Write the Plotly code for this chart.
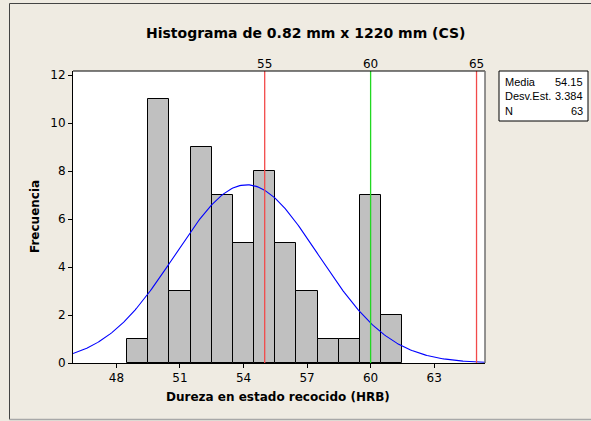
import numpy as np
import plotly.graph_objects as go

# Histogram data: bin midpoints (HRB) and frequencies
bin_mid = [49, 50, 51, 52, 53, 54, 55, 56, 57, 58, 59, 60, 61]
freq = [1, 11, 3, 9, 7, 5, 8, 5, 3, 1, 1, 7, 2]

# Summary statistics
media = 54.15
desv = 3.384
n = 63

# Reference lines on the top axis
ref_vals = [55, 60, 65]
ref_colors = ["#F24A4A", "#22D822", "#F24A4A"]

x_ticks = [48, 51, 54, 57, 60, 63]
y_ticks = [0, 2, 4, 6, 8, 10, 12]

W, H = 591, 421
L, R, T, B = 73, 485, 71, 363
xr = [45.95, 65.4]
yr = [0, 12.17]

FONT = "DejaVu Sans"
BOX_FONT = "Liberation Sans"

fig = go.Figure()

fig.add_trace(go.Bar(
    x=bin_mid, y=freq, width=1.0,
    marker=dict(color="#C0C0C0", line=dict(color="#000000", width=1)),
    hoverinfo="x+y", showlegend=False,
))

# Fitted normal curve scaled to counts (bin width 1)
xc = np.linspace(xr[0], xr[1], 300)
yc = n * 1.0 / (desv * np.sqrt(2 * np.pi)) * np.exp(-0.5 * ((xc - media) / desv) ** 2)
fig.add_trace(go.Scatter(x=xc, y=yc, mode="lines",
                         line=dict(color="#0000FF", width=1.1),
                         showlegend=False, hoverinfo="skip"))

for v, c in zip(ref_vals, ref_colors):
    fig.add_shape(type="line", xref="x", yref="paper", x0=v, x1=v, y0=0, y1=1,
                  line=dict(color=c, width=1.3), layer="above")

# pixel -> paper (plot-area relative) coordinates
def px(x):
    return (x - L) / (R - L)

def py(y):
    return (B - y) / (B - T)

shapes = [
    # outer frame
    dict(type="line", x0=px(9.5), x1=px(W), y0=py(3.5), y1=py(3.5),
         line=dict(color="#444444", width=1)),
    dict(type="line", x0=px(9.5), x1=px(9.5), y0=py(3.5), y1=py(419.5),
         line=dict(color="#444444", width=1)),
    dict(type="line", x0=px(9.5), x1=px(W), y0=py(419.5), y1=py(419.5),
         line=dict(color="#A8A8A8", width=1.5)),
    # plot frame top and right
    dict(type="line", x0=0, x1=1, y0=1, y1=1,
         line=dict(color="#000000", width=1)),
    dict(type="line", x0=1, x1=1, y0=0, y1=1,
         line=dict(color="#707070", width=1.5)),
    # statistics box
    dict(type="rect", x0=px(499), x1=px(588), y0=py(71), y1=py(121),
         line=dict(color="#000000", width=1), fillcolor="#FFFFFF"),
]
for s in shapes:
    fig.add_shape(xref="paper", yref="paper", **s)

stats_rows = [("Media", f"{media:.2f}"), ("Desv.Est.", f"{desv:.3f}"), ("N", f"{n}")]
row_y = [81.5, 96.5, 111]
for (lab, val), yy in zip(stats_rows, row_y):
    fig.add_annotation(x=px(503), y=py(yy), xref="paper", yref="paper", text=lab,
                       showarrow=False, xanchor="left", yanchor="middle",
                       font=dict(family=BOX_FONT, size=11, color="#000"))
    fig.add_annotation(x=px(585), y=py(yy), xref="paper", yref="paper", text=val,
                       showarrow=False, xanchor="right", yanchor="middle",
                       font=dict(family=BOX_FONT, size=11, color="#000"))

fig.add_annotation(x=px(306), y=py(33), xref="paper", yref="paper",
                   text="<b>Histograma de 0.82 mm x 1220 mm (CS)</b>", showarrow=False,
                   xanchor="center", yanchor="middle",
                   font=dict(family=FONT, size=14, color="#000"))
fig.add_annotation(x=px(278), y=py(397), xref="paper", yref="paper",
                   text="<b>Dureza en estado recocido (HRB)</b>", showarrow=False,
                   xanchor="center", yanchor="middle",
                   font=dict(family=FONT, size=12, color="#000"))
fig.add_annotation(x=px(35), y=py(217), xref="paper", yref="paper",
                   text="<b>Frecuencia</b>", showarrow=False, textangle=-90,
                   xanchor="center", yanchor="middle",
                   font=dict(family=FONT, size=12, color="#000"))

fig.update_layout(
    width=W, height=H,
    margin=dict(l=L, r=W - R, t=T, b=H - B),
    paper_bgcolor="#EFEBE2", plot_bgcolor="#FFFFFF",
    bargap=0,
    font=dict(family=FONT, size=12, color="#000"),
    xaxis=dict(range=xr, tickvals=x_ticks, ticks="outside", ticklen=4, tickcolor="#000",
               showline=True, linecolor="#000", linewidth=1, showgrid=False, zeroline=False,
               tickfont=dict(family=FONT, size=12)),
    xaxis2=dict(range=xr, overlaying="x", side="top", tickvals=ref_vals, ticks="",
                showline=False, showgrid=False, zeroline=False, matches="x",
                tickfont=dict(family=FONT, size=12)),
    yaxis=dict(range=yr, tickvals=y_ticks, ticks="outside", ticklen=4, tickcolor="#000",
               showline=True, linecolor="#000", linewidth=1, showgrid=False, zeroline=False,
               tickfont=dict(family=FONT, size=12)),
)

# invisible trace to activate the top axis
fig.add_trace(go.Scatter(x=[xr[0]], y=[0], xaxis="x2", mode="markers",
                         marker=dict(opacity=0), showlegend=False, hoverinfo="skip"))

fig.write_html("out.html")
